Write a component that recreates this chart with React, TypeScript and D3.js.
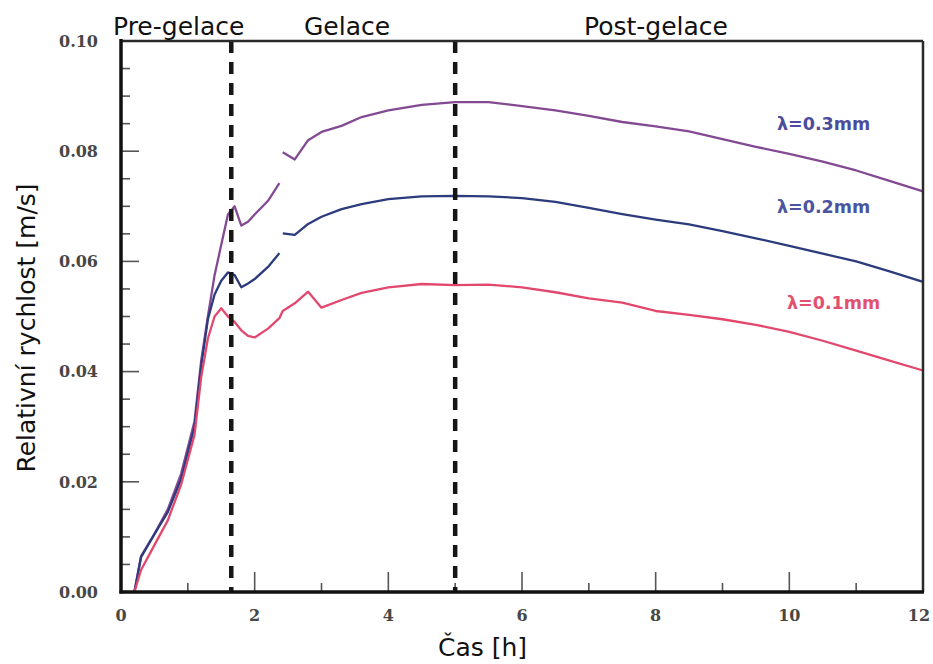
import React from 'react';
import * as d3 from 'd3';

// ---- data ----
const hours = [0.2, 0.3, 0.5, 0.7, 0.9, 1.1, 1.2, 1.3, 1.4, 1.5, 1.6, 1.7, 1.8, 1.9, 2.0, 2.2, 2.37, 2.4, 2.42, 2.6, 2.8, 3.0, 3.3, 3.6, 4.0, 4.5, 5.0, 5.5, 6.0, 6.5, 7.0, 7.5, 8.0, 8.5, 9.0, 9.5, 10.0, 10.5, 11.0, 11.5, 12.0];

const lambda03 = [0.0, 0.0065, 0.0105, 0.015, 0.0215, 0.031, 0.042, 0.05, 0.0575, 0.063, 0.0685, 0.07, 0.0665, 0.0672, 0.0685, 0.071, 0.0742, null, 0.0798, 0.0785, 0.082, 0.0835, 0.0846, 0.0862, 0.0874, 0.0884, 0.0889, 0.0889, 0.0882, 0.0874, 0.0864, 0.0853, 0.0845, 0.0836, 0.0822, 0.0808, 0.0795, 0.0781, 0.0765, 0.0746, 0.0727];
const lambda02 = [0.0, 0.0063, 0.0105, 0.0145, 0.0205, 0.03, 0.041, 0.0495, 0.054, 0.0565, 0.058, 0.0575, 0.0553, 0.056, 0.0568, 0.059, 0.0615, null, 0.0651, 0.0648, 0.0668, 0.0681, 0.0695, 0.0704, 0.0713, 0.0718, 0.0719, 0.0718, 0.0715, 0.0708, 0.0697, 0.0686, 0.0676, 0.0667, 0.0655, 0.0642, 0.0628, 0.0614, 0.06, 0.0582, 0.0563];
const lambda01 = [0.0, 0.004, 0.0085, 0.013, 0.0195, 0.0285, 0.039, 0.046, 0.05, 0.0515, 0.05, 0.049, 0.0475, 0.0465, 0.0462, 0.0478, 0.0497, 0.0505, 0.051, 0.0524, 0.0545, 0.0516, 0.053, 0.0543, 0.0553, 0.0559, 0.0557, 0.0558, 0.0553, 0.0544, 0.0533, 0.0525, 0.051, 0.0503, 0.0495, 0.0485, 0.0472, 0.0456, 0.0438, 0.042, 0.0402];

const seriesNames = ['λ=0.3mm', 'λ=0.2mm', 'λ=0.1mm'];
const seriesColors = ['#834a93', '#2c3b7c', '#e2486d'];
const labelColors = ['#4b4c9e', '#4a54a0', '#e2506f'];

const phaseBoundaries = [1.65, 5.0];
const phaseNames = ['Pre-gelace', 'Gelace', 'Post-gelace'];

const xMajorTicks = [0, 2, 4, 6, 8, 10, 12];
const xMinorTicks = [1, 3, 5, 7, 9, 11];
const yMajorTicks = [0, 0.02, 0.04, 0.06, 0.08, 0.1];
const yMinorTicks = [0.005, 0.01, 0.015, 0.025, 0.03, 0.035, 0.045, 0.05, 0.055, 0.065, 0.07, 0.075, 0.085, 0.09, 0.095];

const xTitle = 'Čas [h]';
const yTitle = 'Relativní rychlost [m/s]';

export default function App() {
  const W = 933, H = 664;
  const x = d3.scaleLinear().domain([0, 12]).range([121, 923]);
  const y = d3.scaleLinear().domain([0, 0.1]).range([592, 41]);
  const fmt = d3.format('.2f');

  const line = d3
    .line<number | null>()
    .defined((d) => d !== null)
    .x((_, i) => x(hours[i]))
    .y((d) => y(d as number));

  const allSeries = [lambda03, lambda02, lambda01];
  const labelX = [777, 777, 787];
  const labelY = [130, 213, 309];
  const phaseLabelX = [113, 304, 584];

  const tickFont = { fontFamily: '"DejaVu Serif", serif', fontWeight: 'bold' as const, fontSize: 16, fill: '#474747' };

  return (
    <svg width={W} height={H} style={{ position: 'absolute', left: 0, top: 0, display: 'block', background: '#fff' }}>
      {/* x ticks */}
      {xMajorTicks.map((t) => (
        <line key={'xM' + t} x1={x(t)} x2={x(t)} y1={y(0)} y2={y(0) - 20} stroke="#555" strokeWidth={1.6} />
      ))}
      {xMinorTicks.map((t) => (
        <line key={'xm' + t} x1={x(t)} x2={x(t)} y1={y(0)} y2={y(0) - 9} stroke="#555" strokeWidth={1.6} />
      ))}
      {/* y ticks */}
      {yMajorTicks.map((v) => (
        <line key={'yM' + v} x1={x(0)} x2={x(0) + 18} y1={y(v)} y2={y(v)} stroke="#555" strokeWidth={1.6} />
      ))}
      {yMinorTicks.map((v) => (
        <line key={'ym' + v} x1={x(0)} x2={x(0) + 9} y1={y(v)} y2={y(v)} stroke="#555" strokeWidth={1.6} />
      ))}

      {/* series */}
      {allSeries.map((s, i) => (
        <path key={'s' + i} d={line(s) || ''} fill="none" stroke={seriesColors[i]} strokeWidth={2.3} strokeLinejoin="round" />
      ))}

      {/* phase boundaries */}
      {phaseBoundaries.map((t) => (
        <line key={'pb' + t} x1={x(t)} x2={x(t)} y1={y(0.1)} y2={y(0)} stroke="#151515" strokeWidth={4.5} strokeDasharray="12 9" />
      ))}

      {/* frame */}
      <line x1={x(0)} x2={x(12)} y1={y(0.1)} y2={y(0.1)} stroke="#2a2a2a" strokeWidth={2.5} />
      <line x1={x(12)} x2={x(12)} y1={y(0.1)} y2={y(0)} stroke="#2a2a2a" strokeWidth={2.5} />
      <line x1={x(0)} x2={x(0)} y1={y(0.1) - 2} y2={y(0) + 1.5} stroke="#111" strokeWidth={3.5} />
      <line x1={x(0) - 1.5} x2={x(12) + 1} y1={y(0)} y2={y(0)} stroke="#111" strokeWidth={3.5} />

      {/* tick labels */}
      {yMajorTicks.map((v) => (
        <text key={'yl' + v} x={98} y={y(v)} dy="0.36em" textAnchor="end" {...tickFont}>
          {fmt(v)}
        </text>
      ))}
      {xMajorTicks.map((t) => (
        <text key={'xl' + t} x={x(t) - (t === 12 ? 4 : 0)} y={621} textAnchor="middle" {...tickFont}>
          {String(t)}
        </text>
      ))}

      {/* series labels */}
      {seriesNames.map((n, i) => (
        <text
          key={'lab' + i}
          x={labelX[i]}
          y={labelY[i]}
          fontFamily='"DejaVu Sans", sans-serif'
          fontWeight="bold"
          fontSize={17.5}
          fill={labelColors[i]}
        >
          {n}
        </text>
      ))}

      {/* phase labels */}
      {phaseNames.map((n, i) => (
        <text key={'ph' + i} x={phaseLabelX[i]} y={35} fontFamily='"DejaVu Sans", sans-serif' fontSize={25} fill="#111">
          {n}
        </text>
      ))}

      {/* axis titles */}
      <text x={438} y={656} fontFamily='"DejaVu Sans", sans-serif' fontSize={25} fill="#111">
        {xTitle}
      </text>
      <text
        transform={`translate(35,${328}) rotate(-90)`}
        textAnchor="middle"
        fontFamily='"DejaVu Sans", sans-serif'
        fontSize={25}
        fill="#111"
      >
        {yTitle}
      </text>
    </svg>
  );
}
